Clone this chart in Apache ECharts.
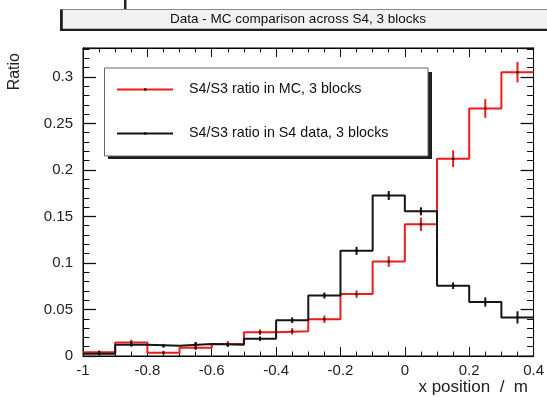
<!DOCTYPE html>
<html><head><meta charset="utf-8">
<script src="https://cdn.jsdelivr.net/npm/echarts@6/dist/echarts.min.js"></script>
<style>html,body{margin:0;padding:0;background:#fff}#c{width:547px;height:397px}</style>
</head><body><div id="c"></div>
<script>
const binEdges = [-1.0,-0.9,-0.8,-0.7,-0.6,-0.5,-0.4,-0.3,-0.2,-0.1,0.0,0.1,0.2,0.3,0.4];
const mcRatio   = [0.004,0.0145,0.0035,0.009,0.013,0.0255,0.0265,0.0395,0.0665,0.1015,0.1415,0.212,0.266,0.305];
const mcError   = [0.002,0.003,0.002,0.0025,0.003,0.003,0.0035,0.004,0.004,0.0057,0.0072,0.009,0.010,0.011];
const dataRatio = [0.0025,0.012,0.011,0.013,0.012,0.0185,0.0385,0.065,0.113,0.1725,0.1555,0.0755,0.058,0.0415];
const dataError = [0.0015,0.002,0.002,0.002,0.002,0.0025,0.003,0.0032,0.0043,0.0048,0.0043,0.0036,0.005,0.0066];
const seriesNames = ['S4/S3 ratio in MC, 3 blocks','S4/S3 ratio in S4 data, 3 blocks'];
const titleText = 'Data - MC comparison across S4, 3 blocks';
const xTitle = 'x position  /  m';
const yTitle = 'Ratio';

const FONT = 'Liberation Sans';
const RED = '#f01a1a', BLACK = '#151515';

function stepPoints(vals){
  const pts = [];
  vals.forEach((v,i)=>{ pts.push([binEdges[i], v]); pts.push([binEdges[i+1], v]); });
  return pts;
}
function errPoints(vals, errs){
  return vals.map((v,i)=>[(binEdges[i]+binEdges[i+1])/2, v, errs[i]]);
}
function errRender(color){
  return function(params, api){
    const x = api.value(0), y = api.value(1), e = api.value(2);
    const p1 = api.coord([x, y - e]), p2 = api.coord([x, y + e]), c = api.coord([x, y]);
    return {type:'group', children:[
      {type:'line', shape:{x1:p1[0], y1:p1[1], x2:p2[0], y2:p2[1]}, style:{stroke:color, lineWidth:2}},
      {type:'rect', shape:{x:c[0]-1.2, y:c[1]-1.2, width:2.4, height:2.4}, style:{fill:'#111'}}
    ]};
  };
}

const axisCommonX = {
  type:'value', min:-1, max:0.4, interval:0.2, gridIndex:0,
  axisLine:{show:true, onZero:false, lineStyle:{color:'#000', width:1}},
  axisTick:{show:true, inside:true, length:9, lineStyle:{color:'#111', width:1}},
  minorTick:{show:true, splitNumber:4, length:4.5, lineStyle:{color:'#111', width:1}},
  splitLine:{show:false}, minorSplitLine:{show:false}
};
const yMax = 0.331;
function yMinor(pos, labels){
  return {
    type:'value', min:0, max:yMax, interval:0.01, position:pos, gridIndex:0,
    axisLine:{show:true, onZero:false, lineStyle:{color:'#000', width:1}},
    axisTick:{show:true, inside:true, length:6.5, lineStyle:{color:'#111', width:1}},
    splitLine:{show:false},
    axisLabel:{show:labels, margin:10, fontFamily:FONT, fontSize:15, color:'#222', showMaxLabel:false,
      formatter:function(v){ const k=v/0.05; if (Math.abs(k-Math.round(k))>1e-6) return ''; return String(+v.toFixed(3)); }}
  };
}
function yMajor(pos){
  return {
    type:'value', min:0, max:yMax, interval:0.05, position:pos, gridIndex:0,
    axisLine:{show:true, onZero:false, lineStyle:{color:'#000', width:1}},
    axisLabel:{show:false}, splitLine:{show:false},
    axisTick:{show:true, inside:true, length:13, lineStyle:{color:'#111', width:1.3}}
  };
}

const chart = echarts.init(document.getElementById('c'), null, {renderer:'canvas'});
chart.setOption({
  animation:false,
  backgroundColor:'#fff',
  grid:{left:83, top:48, right:13, bottom:41, show:true, borderColor:'#000', borderWidth:1, backgroundColor:'transparent'},
  xAxis:[
    Object.assign({}, axisCommonX, {position:'bottom',
      axisLabel:{show:true, margin:7, fontFamily:FONT, fontSize:15, color:'#222',
        formatter:function(v){ return String(+v.toFixed(2)); }}}),
    Object.assign({}, axisCommonX, {position:'top', axisLabel:{show:false}})
  ],
  yAxis:[ yMinor('left', true), yMajor('left'), yMinor('right', false), yMajor('right') ],
  series:[
    {type:'line', name:seriesNames[0], data:stepPoints(mcRatio), symbol:'none', lineStyle:{color:RED, width:2}, z:3},
    {type:'custom', data:errPoints(mcRatio, mcError), renderItem:errRender(RED), z:4},
    {type:'line', name:seriesNames[1], data:stepPoints(dataRatio), symbol:'none', lineStyle:{color:BLACK, width:2}, z:5},
    {type:'custom', data:errPoints(dataRatio, dataError), renderItem:errRender(BLACK), z:6}
  ],
  graphic:[
    {type:'rect', shape:{x:124, y:0, width:2.5, height:12}, style:{fill:'#222'}},
    {type:'rect', shape:{x:61, y:9.5, width:500, height:20}, style:{fill:'#f1f1f1', stroke:'#888', lineWidth:1}},
    {type:'rect', shape:{x:60, y:9.5, width:2.8, height:21.5}, style:{fill:'#1e1e1e'}},
    {type:'rect', shape:{x:60, y:28.8, width:500, height:2.2}, style:{fill:'#1e1e1e'}},
    {type:'text', x:298, y:19.5, style:{text:titleText, fontFamily:FONT, fontSize:13.5, fill:'#111', align:'center', verticalAlign:'middle'}},
    {type:'rect', shape:{x:108, y:72, width:324, height:87}, style:{fill:'#1e1e1e'}, z:10},
    {type:'rect', shape:{x:104.5, y:68, width:323.5, height:88}, style:{fill:'#fff', stroke:'#666', lineWidth:1}, z:11},
    {type:'line', shape:{x1:117, y1:89.5, x2:173, y2:89.5}, style:{stroke:RED, lineWidth:2}, z:12},
    {type:'rect', shape:{x:144, y:88.3, width:2.4, height:2.4}, style:{fill:'#111'}, z:13},
    {type:'text', x:189, y:89, style:{text:seriesNames[0], fontFamily:FONT, fontSize:14.3, fill:'#111', verticalAlign:'middle'}, z:12},
    {type:'line', shape:{x1:117, y1:133.5, x2:173, y2:133.5}, style:{stroke:BLACK, lineWidth:2}, z:12},
    {type:'rect', shape:{x:144, y:132.3, width:2.4, height:2.4}, style:{fill:'#111'}, z:13},
    {type:'text', x:189, y:133, style:{text:seriesNames[1], fontFamily:FONT, fontSize:14.3, fill:'#111', verticalAlign:'middle'}, z:12},
    {type:'text', x:528, y:387.5, style:{text:xTitle, fontFamily:FONT, fontSize:17, fill:'#222', align:'right', verticalAlign:'middle'}},
    {type:'text', x:15, y:53, rotation:Math.PI/2, style:{text:yTitle, fontFamily:FONT, fontSize:16, fill:'#222', align:'right', verticalAlign:'middle'}}
  ]
});
</script></body></html>
